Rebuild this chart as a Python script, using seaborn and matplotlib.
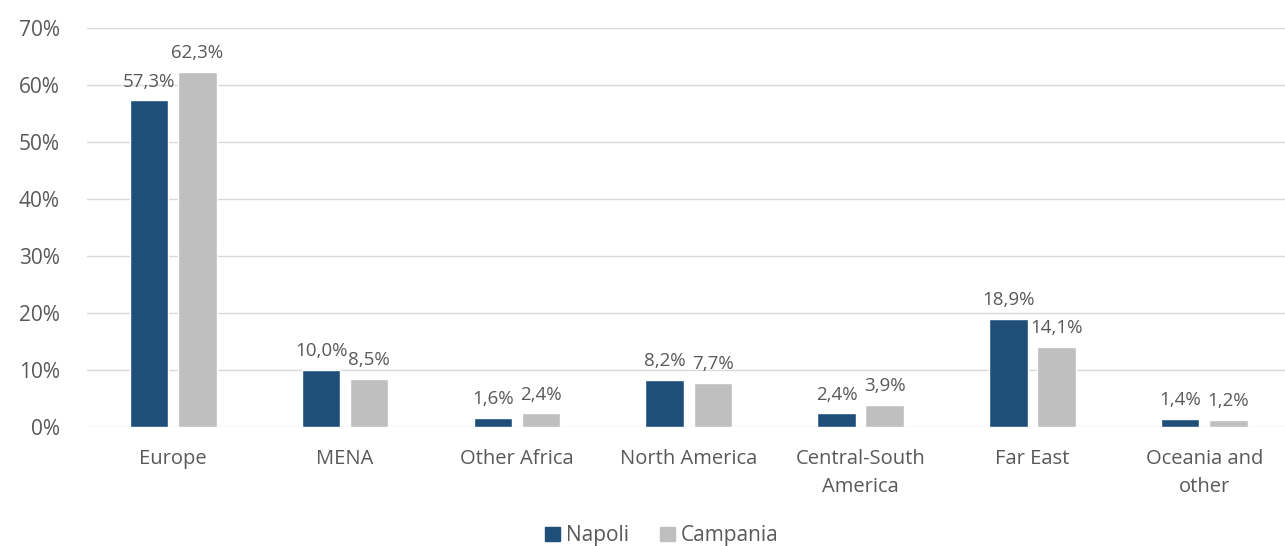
import matplotlib
matplotlib.use("Agg")
import matplotlib.pyplot as plt
from matplotlib.ticker import FuncFormatter
import pandas as pd
import seaborn as sns

regions = ["Europe", "MENA", "Other Africa", "North America",
           "Central-South\nAmerica", "Far East", "Oceania and\nother"]
napoli = [57.3, 10.0, 1.6, 8.2, 2.4, 18.9, 1.4]
campania = [62.3, 8.5, 2.4, 7.7, 3.9, 14.1, 1.2]
series = ["Napoli", "Campania"]
colors = ["#1f4e79", "#bfbfbf"]

df = pd.DataFrame({
    "region": regions * 2,
    "share": napoli + campania,
    "area": [series[0]] * len(regions) + [series[1]] * len(regions),
})

sns.set_theme(style="white")
plt.rcParams["font.family"] = ["Open Sans", "DejaVu Sans"]
text_color = "#595959"

fig = plt.figure(figsize=(12.85, 5.46), dpi=100)
ax = fig.add_axes([0.068, 0.218, 0.936, 0.731])

sns.barplot(data=df, x="region", y="share", hue="area", hue_order=series,
            palette=colors, width=0.56, gap=0.2, saturation=1,
            ax=ax, legend=False, errorbar=None)

for container in ax.containers:
    ax.bar_label(container,
                 labels=[f"{v:.1f}%".replace(".", ",") for v in container.datavalues],
                 padding=7, fontsize=13.5, color=text_color)

ax.set_ylim(0, 70)
ax.set_yticks(range(0, 71, 10))
ax.yaxis.set_major_formatter(FuncFormatter(lambda v, _: f"{v:.0f}%"))
ax.set_xlim(-0.5, len(regions) - 0.5)
ax.grid(axis="y", color="#d9d9d9", linewidth=1)
ax.set_axisbelow(True)
for s in ax.spines.values():
    s.set_visible(False)
ax.set_xlabel("")
ax.set_ylabel("")
ax.tick_params(axis="y", length=0, pad=20, labelsize=15, labelcolor=text_color)
ax.tick_params(axis="x", length=0, pad=16, labelsize=14.5, labelcolor=text_color)
for lbl in ax.get_xticklabels():
    lbl.set_linespacing(1.55)

handles = [plt.Rectangle((0, 0), 1, 1, color=c) for c in colors]
fig.legend(handles, series, loc="lower center", bbox_to_anchor=(0.515, -0.035),
           ncol=2, frameon=False, fontsize=15, labelcolor=text_color,
           handlelength=0.7, handleheight=0.7, handletextpad=0.3, columnspacing=1.5)

fig.savefig("out.png", dpi=100)
